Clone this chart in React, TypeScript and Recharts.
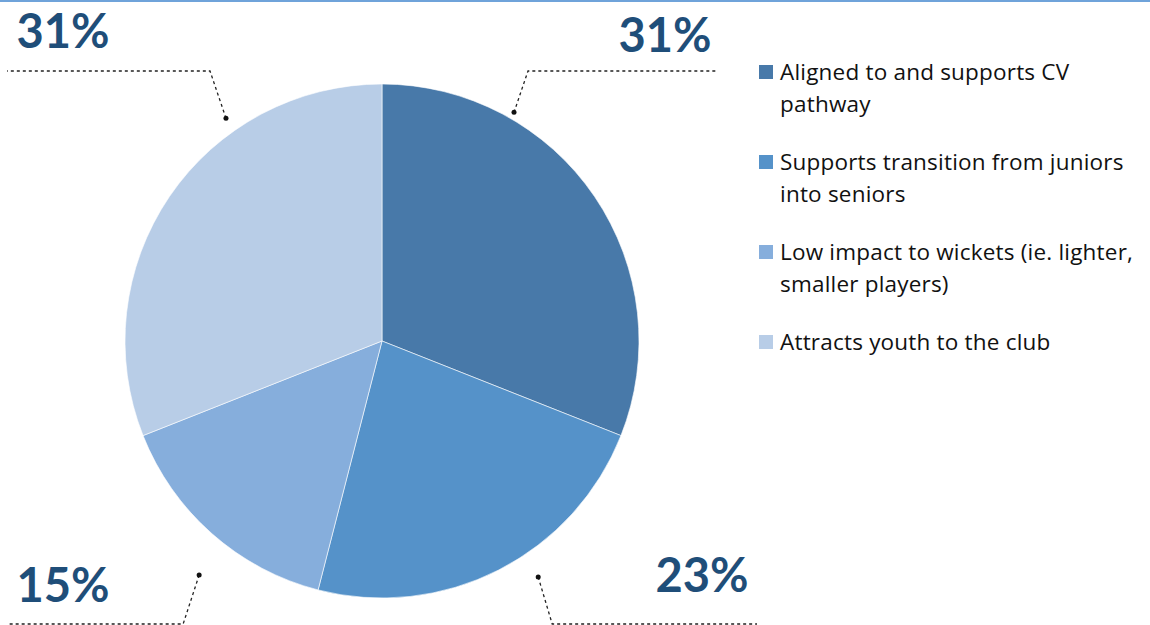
import React from "react";
import { PieChart, Pie, Cell, Legend } from "recharts";

// reasons given, share of respondents (%)
const reasons = [
  "Aligned to and supports CV pathway",
  "Supports transition from juniors into seniors",
  "Low impact to wickets (ie. lighter, smaller players)",
  "Attracts youth to the club",
];
const legendLines = [
  ["Aligned to and supports CV", "pathway"],
  ["Supports transition from juniors", "into seniors"],
  ["Low impact to wickets (ie. lighter,", "smaller players)"],
  ["Attracts youth to the club"],
];
const shares = [31, 23, 15, 31];
const colors = ["#4879A9", "#5592C9", "#86AEDC", "#B8CDE7"];

const data = reasons.map((name, i) => ({ name, value: shares[i] }));

const RAD = Math.PI / 180;

// Excel-style callouts pushed out to the corners with a dotted elbow leader
const renderLabel = (props: any) => {
  const { cx, cy, midAngle, outerRadius, value } = props;
  const right = Math.cos(midAngle * RAD) > 0;
  const top = Math.sin(midAngle * RAD) > 0;
  const dotAngle = right ? (top ? 60 : -56.5) : top ? 125 : -128;
  const gap = right ? (top ? 7 : 26) : top ? 15 : 40;
  const r = outerRadius + gap;
  const dx = cx + r * Math.cos(dotAngle * RAD);
  const dy = cy - r * Math.sin(dotAngle * RAD);
  const ex = dx + (right ? 14 : -16);
  const ey = top ? cy - 270 : cy + 283;
  const endX = right ? (top ? cx + 336 : cx + 375) : cx - 375;
  const tx = right ? (top ? cx + 283 : cx + 320) : cx - 319;
  const ty = top ? (right ? cy - 289 : cy - 293) : right ? cy + 251 : cy + 261;
  return (
    <g>
      <polyline
        points={`${dx},${dy} ${ex},${ey} ${endX},${ey}`}
        fill="none"
        stroke="#222"
        strokeWidth={1.3}
        strokeDasharray="3 3"
      />
      <circle cx={dx} cy={dy} r={2.5} fill="#111" />
      <text
        x={tx}
        y={ty}
        textAnchor="middle"
        fill="#1F4E79"
        fontFamily="Lato, sans-serif"
        fontWeight={700}
        fontSize={47}
      >
        {`${value}%`}
      </text>
    </g>
  );
};

const renderLegend = () => (
  <div
    style={{
      fontFamily: "'Open Sans', sans-serif",
      fontSize: 22.5,
      letterSpacing: 0.2,
      color: "#111",
    }}
  >
    {legendLines.map((lines, i) => (
      <div key={i} style={{ display: "flex", alignItems: "flex-start", marginBottom: 26 }}>
        <div
          style={{
            width: 14,
            height: 14,
            background: colors[i],
            marginTop: 9,
            marginRight: 7,
            flexShrink: 0,
          }}
        />
        <div style={{ lineHeight: "32px", whiteSpace: "nowrap" }}>
          {lines.map((l, j) => (
            <div key={j}>{l}</div>
          ))}
        </div>
      </div>
    ))}
  </div>
);

export default function App() {
  return (
    <div style={{ position: "fixed", left: 0, top: 0, width: 1150, height: 625, background: "#fff" }}>
      <div style={{ position: "absolute", left: 0, top: 0, width: 1150, height: 2, background: "#6FA3DA" }} />
      <PieChart width={1150} height={625} margin={{ top: 0, right: 0, bottom: 0, left: 0 }}>
        <Pie
          data={data}
          dataKey="value"
          nameKey="name"
          cx={382}
          cy={341}
          outerRadius={257}
          startAngle={90}
          endAngle={-270}
          stroke="#ffffff"
          strokeWidth={0.6}
          label={renderLabel}
          labelLine={false}
          isAnimationActive={false}
        >
          {data.map((d, i) => (
            <Cell key={d.name} fill={colors[i]} />
          ))}
        </Pie>
        <Legend
          content={renderLegend}
          layout="vertical"
          wrapperStyle={{ position: "absolute", left: 759, top: 56, width: 390 }}
        />
      </PieChart>
    </div>
  );
}
